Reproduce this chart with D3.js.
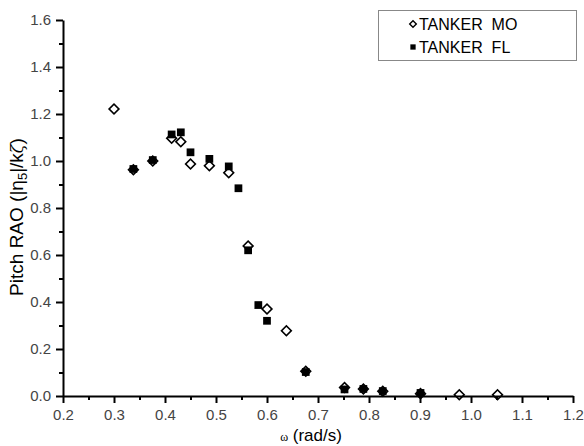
<!DOCTYPE html>
<html>
<head>
<meta charset="utf-8">
<script src="https://cdn.jsdelivr.net/npm/d3@7"></script>
<style>
  body { margin: 0; background: #fff; }
  svg { display: block; font-family: Arial, "Liberation Sans", sans-serif; }
</style>
</head>
<body>
<div id="chart"></div>
<script>
// tanker MO (open diamonds)
const moOmega = [0.300, 0.338, 0.376, 0.413, 0.431, 0.450, 0.487, 0.525, 0.563, 0.600, 0.638, 0.676, 0.752, 0.789, 0.827, 0.901, 0.977, 1.052];
const moRao   = [1.221, 0.963, 1.000, 1.097, 1.082, 0.987, 0.980, 0.950, 0.638, 0.370, 0.278, 0.105, 0.036, 0.030, 0.020, 0.010, 0.005, 0.005];
// tanker FL (filled squares)
const flOmega = [0.338, 0.376, 0.413, 0.431, 0.450, 0.487, 0.525, 0.544, 0.563, 0.583, 0.600, 0.676, 0.752, 0.789, 0.827, 0.901];
const flRao   = [0.966, 1.004, 1.113, 1.122, 1.037, 1.009, 0.977, 0.884, 0.620, 0.387, 0.320, 0.102, 0.028, 0.030, 0.021, 0.013];

const xTicks = [0.2, 0.3, 0.4, 0.5, 0.6, 0.7, 0.8, 0.9, 1.0, 1.1, 1.2];
const yTicks = [0.0, 0.2, 0.4, 0.6, 0.8, 1.0, 1.2, 1.4, 1.6];
const legendNames = ["TANKER  MO", "TANKER  FL"];

const width = 584, height = 446;
const margin = { top: 20, right: 11, bottom: 50, left: 63 };

const svg = d3.select("#chart").append("svg")
  .attr("width", width)
  .attr("height", height);

const x = d3.scaleLinear().domain([0.2, 1.2]).range([margin.left, width - margin.right]);
const y = d3.scaleLinear().domain([0, 1.6]).range([height - margin.bottom, margin.top]);

// minor ticks first, then the main axes on top
const xMinor = d3.range(0.25, 1.2, 0.1);
const yMinor = d3.range(0.1, 1.6, 0.2);

svg.append("g")
  .attr("transform", `translate(0,${y(0)})`)
  .call(d3.axisBottom(x).tickValues(xMinor).tickSize(4).tickFormat(""))
  .call(g => g.select(".domain").remove())
  .call(g => g.selectAll("line").attr("stroke", "#000").attr("stroke-width", 2));

svg.append("g")
  .attr("transform", `translate(${x(0.2)},0)`)
  .call(d3.axisLeft(y).tickValues(yMinor).tickSize(4).tickFormat(""))
  .call(g => g.select(".domain").remove())
  .call(g => g.selectAll("line").attr("stroke", "#000").attr("stroke-width", 2));

const xAxis = svg.append("g")
  .attr("transform", `translate(0,${y(0)})`)
  .call(d3.axisBottom(x).tickValues(xTicks).tickSize(7).tickSizeOuter(0).tickPadding(6).tickFormat(d3.format(".1f")));

const yAxis = svg.append("g")
  .attr("transform", `translate(${x(0.2)},0)`)
  .call(d3.axisLeft(y).tickValues(yTicks).tickSize(7).tickSizeOuter(0).tickPadding(5).tickFormat(d3.format(".1f")));

[xAxis, yAxis].forEach(a => {
  a.select(".domain").attr("stroke", "#000").attr("stroke-width", 2);
  a.selectAll("line").attr("stroke", "#000").attr("stroke-width", 2);
  a.selectAll("text").attr("font-size", 15).attr("fill", "#444")
    .attr("font-family", "Arial, 'Liberation Sans', sans-serif");
});

// axis titles
svg.append("text")
  .attr("x", 311)
  .attr("y", 441)
  .attr("text-anchor", "middle")
  .attr("font-size", 17)
  .call(t => {
    t.append("tspan").attr("font-family", "'Liberation Serif', serif").attr("font-size", 12).text("ω");
    t.append("tspan").text(" (rad/s)");
  });

svg.append("text")
  .attr("transform", `translate(23,217) rotate(-90)`)
  .attr("text-anchor", "middle")
  .attr("font-size", 19)
  .call(t => {
    t.append("tspan").text("Pitch RAO (|η");
    t.append("tspan").attr("font-size", 13).attr("dy", 4).text("5");
    t.append("tspan").attr("dy", -4).text("|/k");
    t.append("tspan").attr("font-family", "'DejaVu Serif', serif").attr("font-style", "italic").attr("font-size", 16).text("ζ");
    t.append("tspan").text(")");
  });

// markers
const diamond = d3.symbol().type(d3.symbolSquare).size(48);
const square = d3.symbol().type(d3.symbolSquare).size(60);

const moData = moOmega.map((w, i) => ({ w, v: moRao[i] }));
const flData = flOmega.map((w, i) => ({ w, v: flRao[i] }));

svg.append("g").selectAll("path")
  .data(flData)
  .enter().append("path")
  .attr("d", square)
  .attr("transform", d => `translate(${x(d.w)},${y(d.v)})`)
  .attr("fill", "#000");

svg.append("g").selectAll("path")
  .data(moData)
  .enter().append("path")
  .attr("d", diamond)
  .attr("transform", d => `translate(${x(d.w)},${y(d.v)}) rotate(45)`)
  .attr("fill", "none")
  .attr("stroke", "#000")
  .attr("stroke-width", 1.6);

// legend
const lg = svg.append("g");
lg.append("rect")
  .attr("x", 378.5).attr("y", 10.5)
  .attr("width", 198).attr("height", 50)
  .attr("fill", "#fff")
  .attr("stroke", "#888")
  .attr("stroke-width", 1);

lg.append("path")
  .attr("d", d3.symbol().type(d3.symbolSquare).size(22))
  .attr("transform", "translate(413,24) rotate(45)")
  .attr("fill", "none").attr("stroke", "#000").attr("stroke-width", 1.4);
lg.append("path")
  .attr("d", d3.symbol().type(d3.symbolSquare).size(28))
  .attr("transform", "translate(413,47)")
  .attr("fill", "#000");

lg.selectAll("text")
  .data(legendNames)
  .enter().append("text")
  .attr("x", 419)
  .attr("y", (d, i) => 30 + i * 23)
  .attr("font-size", 16)
  .attr("fill", "#000")
  .attr("xml:space", "preserve")
  .style("white-space", "pre")
  .text(d => d);
</script>
</body>
</html>
